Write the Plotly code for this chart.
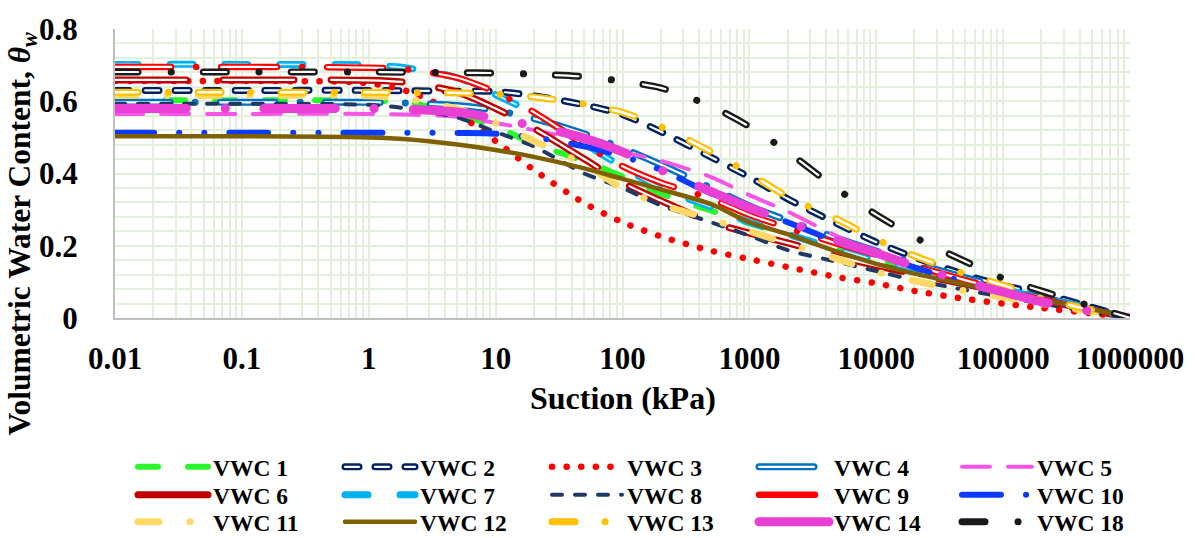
import json
import plotly.graph_objects as go

# Suction values (kPa) at which each curve is sampled
SUCTION = [0.01, 0.1, 1, 2, 5, 10, 20, 50, 100, 200, 500, 1000, 2000,
           5000, 10000, 20000, 50000, 100000, 200000, 500000, 1000000]

# Volumetric water content of each soil at the suctions above
VWC_1 = [0.603, 0.603, 0.602, 0.597, 0.565, 0.530, 0.482, 0.435, 0.392, 0.345, 0.297, 0.262, 0.232, 0.190, 0.160, 0.133, 0.098, 0.074, 0.050, 0.022, 0.0]
VWC_2 = [0.630, 0.630, 0.630, 0.629, 0.628, 0.627, 0.615, 0.590, 0.563, 0.516, 0.445, 0.390, 0.330, 0.260, 0.210, 0.168, 0.120, 0.090, 0.068, 0.030, 0.0]
VWC_3 = [0.656, 0.656, 0.650, 0.628, 0.565, 0.490, 0.410, 0.318, 0.265, 0.226, 0.186, 0.163, 0.141, 0.113, 0.096, 0.075, 0.053, 0.040, 0.028, 0.013, 0.0]
VWC_4 = [0.597, 0.597, 0.597, 0.595, 0.588, 0.575, 0.552, 0.510, 0.470, 0.425, 0.360, 0.310, 0.270, 0.220, 0.185, 0.152, 0.112, 0.085, 0.058, 0.026, 0.0]
VWC_5 = [0.565, 0.565, 0.565, 0.563, 0.557, 0.540, 0.520, 0.490, 0.460, 0.435, 0.390, 0.340, 0.295, 0.225, 0.182, 0.143, 0.095, 0.070, 0.048, 0.020, 0.0]
VWC_6 = [0.659, 0.659, 0.658, 0.652, 0.625, 0.580, 0.525, 0.440, 0.375, 0.325, 0.265, 0.235, 0.208, 0.170, 0.145, 0.122, 0.094, 0.072, 0.050, 0.022, 0.0]
VWC_7 = [0.702, 0.702, 0.700, 0.692, 0.665, 0.618, 0.566, 0.483, 0.418, 0.360, 0.307, 0.265, 0.232, 0.190, 0.160, 0.135, 0.105, 0.080, 0.055, 0.025, 0.0]
VWC_8 = [0.593, 0.593, 0.590, 0.580, 0.555, 0.515, 0.475, 0.400, 0.360, 0.312, 0.265, 0.228, 0.188, 0.155, 0.130, 0.105, 0.078, 0.058, 0.040, 0.017, 0.0]
VWC_9 = [0.695, 0.695, 0.693, 0.688, 0.665, 0.625, 0.570, 0.480, 0.420, 0.375, 0.330, 0.285, 0.250, 0.205, 0.175, 0.145, 0.105, 0.077, 0.052, 0.022, 0.0]
VWC_10 = [0.513, 0.513, 0.513, 0.513, 0.512, 0.510, 0.500, 0.475, 0.448, 0.410, 0.345, 0.305, 0.265, 0.210, 0.180, 0.140, 0.100, 0.075, 0.050, 0.022, 0.0]
VWC_11 = [0.616, 0.616, 0.615, 0.607, 0.578, 0.540, 0.490, 0.425, 0.360, 0.315, 0.273, 0.240, 0.207, 0.163, 0.128, 0.103, 0.075, 0.058, 0.040, 0.018, 0.0]
VWC_12 = [0.503, 0.503, 0.500, 0.495, 0.480, 0.465, 0.446, 0.414, 0.385, 0.356, 0.315, 0.265, 0.232, 0.183, 0.150, 0.123, 0.093, 0.070, 0.050, 0.025, 0.0]
VWC_13 = [0.625, 0.625, 0.625, 0.624, 0.623, 0.620, 0.612, 0.592, 0.569, 0.530, 0.460, 0.400, 0.336, 0.272, 0.218, 0.172, 0.122, 0.091, 0.055, 0.022, 0.0]
VWC_14 = [0.580, 0.580, 0.580, 0.578, 0.570, 0.552, 0.532, 0.498, 0.460, 0.410, 0.350, 0.305, 0.268, 0.213, 0.180, 0.143, 0.100, 0.072, 0.045, 0.018, 0.0]
VWC_18 = [0.681, 0.681, 0.681, 0.680, 0.679, 0.678, 0.675, 0.668, 0.655, 0.637, 0.586, 0.530, 0.460, 0.355, 0.286, 0.224, 0.157, 0.110, 0.075, 0.032, 0.0]

SERIES_NAMES = ["VWC 1", "VWC 2", "VWC 3", "VWC 4", "VWC 5",
                "VWC 6", "VWC 7", "VWC 8", "VWC 9", "VWC 10",
                "VWC 11", "VWC 12", "VWC 13", "VWC 14", "VWC 18"]
SERIES_VALUES = [VWC_1, VWC_2, VWC_3, VWC_4, VWC_5,
                 VWC_6, VWC_7, VWC_8, VWC_9, VWC_10,
                 VWC_11, VWC_12, VWC_13, VWC_14, VWC_18]

X_TICK_VALUES = [0.01, 0.1, 1, 10, 100, 1000, 10000, 100000, 1000000]
X_TICK_LABELS = ["0.01", "0.1", "1", "10", "100", "1000", "10000", "100000", "1000000"]
Y_TICK_VALUES = [0, 0.2, 0.4, 0.6, 0.8]
Y_TICK_LABELS = ["0", "0.2", "0.4", "0.6", "0.8"]

# Line styling: colour, width, dash pattern; "core" adds a white centre stroke
# (compound double line), "core_dash" is the centre's pattern without dots.
STYLES = {
    "VWC 1": dict(color="#2BF52B", width=6, dash="20px,30px"),
    "VWC 2": dict(color="#002060", width=7, dash="14px,16px", core=2.2),
    "VWC 3": dict(color="#FF0000", width=6.5, dash="0.1px,14.5px"),
    "VWC 4": dict(color="#0070C0", width=7, dash="55px,25px,0.1px,25px", core=2.2,
                  core_dash="55px,50.1px"),
    "VWC 5": dict(color="#F556E8", width=4, dash="28px,18px"),
    "VWC 6": dict(color="#C00000", width=7, dash="71px,37px", core=2.2),
    "VWC 7": dict(color="#00B0F0", width=7, dash="23px,32px", core=1.6, core_color="#CFF2FF"),
    "VWC 8": dict(color="#1F3864", width=4, dash="10px,13px"),
    "VWC 9": dict(color="#FF0000", width=6.5, dash="56px,25px,0.1px,25px", core=2.2,
                  core_dash="56px,50.1px"),
    "VWC 10": dict(color="#0B3BFF", width=6, dash="39px,25px,0.1px,25px,0.1px,25px"),
    "VWC 11": dict(color="#FFD966", width=7, dash="21px,31px,0.1px,31px"),
    "VWC 12": dict(color="#7F6000", width=4.5, dash="solid"),
    "VWC 13": dict(color="#FFC000", width=7, dash="23px,30px,0.1px,30px", core=2.6,
                   core_dash="23px,60.1px"),
    "VWC 14": dict(color="#EA3FD4", width=9, dash="71px,39px,0.1px,39px"),
    "VWC 18": dict(color="#1A1A1A", width=7, dash="23px,33px,0.1px,32px", core=2.2,
                   core_dash="23px,65.1px"),
}

FONT = "Liberation Serif"
GRID = "#E2EFDA"

# Legend grid: three rows of five entries; each row's last entry sits in its
# own legend box so the five columns keep an even spacing.
LEGEND_ROW_Y = [467, 495, 522]
LEGEND_COL_X = [133, 339, 545, 751, 957]
N_COLS = 5


def legend_key(row, col):
    idx = row + 1 if col < 4 else row + 4
    return "legend" if idx == 1 else f"legend{idx}"


fig = go.Figure()

for i, (name, values) in enumerate(zip(SERIES_NAMES, SERIES_VALUES)):
    st = STYLES[name]
    key = legend_key(i // N_COLS, i % N_COLS)
    fig.add_trace(go.Scatter(
        x=SUCTION, y=values, name=name, mode="lines",
        line=dict(color=st["color"], width=st["width"], dash=st["dash"],
                  shape="spline", smoothing=0.8),
        legend=key, hoverinfo="skip",
    ))
    if "core" in st:
        fig.add_trace(go.Scatter(
            x=SUCTION, y=values, name=name, mode="lines", showlegend=False,
            line=dict(color=st.get("core_color", "white"), width=st["core"],
                      dash=st.get("core_dash", st["dash"]),
                      shape="spline", smoothing=0.8),
            legend=key, hoverinfo="skip",
        ))

axis_font = dict(family=FONT, size=31, color="black", weight="bold")

fig.update_xaxes(
    type="log", range=[-2, 6],
    tickmode="array", tickvals=X_TICK_VALUES, ticktext=X_TICK_LABELS,
    tickfont=axis_font, ticks="", ticklabelstandoff=12,
    showgrid=True, gridcolor=GRID, gridwidth=2,
    minor=dict(dtick="D1", showgrid=True, gridcolor=GRID, gridwidth=2, ticks=""),
    showline=True, linecolor="#BFBFBF", linewidth=2, zeroline=False,
)
fig.update_yaxes(
    range=[0, 0.8],
    tickmode="array", tickvals=Y_TICK_VALUES, ticktext=Y_TICK_LABELS,
    tickfont=axis_font, ticks="", ticklabelstandoff=29,
    showgrid=True, gridcolor=GRID, gridwidth=2,
    minor=dict(dtick=0.04, showgrid=True, gridcolor=GRID, gridwidth=2, ticks=""),
    showline=True, linecolor="#BFBFBF", linewidth=2, zeroline=False,
)

legend_font = dict(family=FONT, size=23.5, color="black", weight="bold")
layout_legends = {}
for row, y_px in enumerate(LEGEND_ROW_Y):
    for col, x_px in ((0, LEGEND_COL_X[0]), (4, LEGEND_COL_X[4])):
        layout_legends[legend_key(row, col)] = dict(
            orientation="h", xref="container", yref="container",
            x=x_px / 1196, xanchor="left", y=1 - y_px / 538, yanchor="middle",
            entrywidth=122, entrywidthmode="pixels", itemwidth=70,
            font=legend_font, bgcolor="rgba(0,0,0,0)", borderwidth=0,
            itemclick=False, itemdoubleclick=False,
        )

fig.update_layout(
    width=1196, height=538,
    margin=dict(l=115, r=63, t=18, b=220),
    paper_bgcolor="white", plot_bgcolor="white",
    font=dict(family=FONT, color="black"),
    **layout_legends,
    annotations=[
        dict(text="Suction (kPa)", xref="paper", yref="paper",
             x=0.5, y=-83 / 300, xanchor="center", yanchor="middle",
             showarrow=False, font=dict(family=FONT, size=32, color="black", weight="bold")),
        dict(text="Volumetric Water Content, <i>θ</i><sub><i>w</i></sub>",
             xref="paper", yref="paper", x=-93 / 1018, y=(318 - 231) / 300,
             xanchor="center", yanchor="middle", textangle=-90, showarrow=False,
             font=dict(family=FONT, size=31.5, color="black", weight="bold")),
    ],
)

# White centre strokes for the compound (double) lines in the legend samples
legend_cores = {
    name: dict(color=st.get("core_color", "white"), width=st["core"],
               dash=st.get("core_dash", st["dash"]).replace("px", "").replace(",", " "))
    for name, st in STYLES.items() if "core" in st
}

# Round line caps and joins, then the legend's double-line centres; re-applied
# whenever plotly (re)draws part of the page.
POST = """
var cores = %s;
function decorate() {
  document.querySelectorAll('path.js-line').forEach(function (p) {
    if (p.style.strokeLinecap !== 'round') {
      p.style.strokeLinecap = 'round';
      p.style.strokeLinejoin = 'round';
    }
  });
  document.querySelectorAll('text.legendtext').forEach(function (t) {
    var c = cores[(t.textContent || '').trim()];
    if (!c) return;
    var g = t.parentNode;
    while (g && !(g.classList && g.classList.contains('traces'))) { g = g.parentNode; }
    if (!g || g.querySelector('path.core-line')) return;
    var p = g.querySelector('path.js-line');
    if (!p) return;
    var q = p.cloneNode(true);
    q.setAttribute('class', 'core-line');
    q.style.stroke = c.color;
    q.style.strokeWidth = c.width + 'px';
    q.style.strokeDasharray = c.dash;
    p.parentNode.appendChild(q);
  });
}
decorate();
new MutationObserver(function () { decorate(); })
  .observe(document.body, {childList: true, subtree: true});
var ticksLeft = 40;
var timer = setInterval(function () {
  decorate();
  if (--ticksLeft <= 0) { clearInterval(timer); }
}, 50);
""" % json.dumps(legend_cores)

fig.write_html("out.html", post_script=POST)
